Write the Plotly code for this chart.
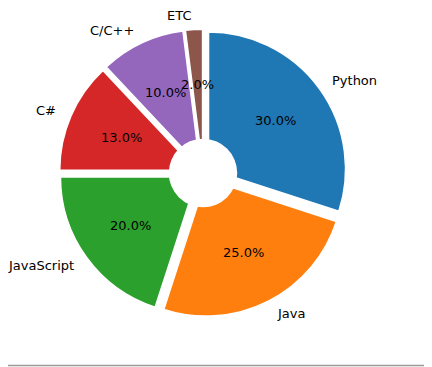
import numpy as np
import plotly.graph_objects as go

labels = ["Python", "Java", "JavaScript", "C#", "C/C++", "ETC"]
values = [30, 25, 20, 13, 10, 2]
colors = ["#1f77b4", "#ff7f0e", "#2ca02c", "#d62728", "#9467bd", "#8c564b"]
explode = 0.05
center_hole = 0.25

# page body has an 8px margin; figure placed accordingly
W, H = 432, 359
CX, CY = 195, 165      # pie centre in figure pixels (from top-left)
R = 137                # pie radius in pixels

half = R * (1 + explode)
cy_b = H - CY

fig = go.Figure()
fig.add_trace(go.Pie(
    labels=labels, values=values, sort=False, direction="clockwise", rotation=0,
    pull=[explode] * len(values),
    marker=dict(colors=colors, line=dict(color="white", width=1.5)),
    textinfo="none", hoverinfo="skip", showlegend=False,
    domain=dict(x=[(CX - half) / W, (CX + half) / W], y=[(cy_b - half) / H, (cy_b + half) / H]),
))
hr = R * center_hole
fig.add_trace(go.Pie(
    values=[1], sort=False, marker=dict(colors=["white"], line=dict(color="white", width=0)),
    textinfo="none", hoverinfo="skip", showlegend=False,
    domain=dict(x=[(CX - hr) / W, (CX + hr) / W], y=[(cy_b - hr) / H, (cy_b + hr) / H]),
))

vals = np.array(values, dtype=float)
frac = vals / vals.sum()
start = 90 - 360 * np.concatenate([[0], np.cumsum(frac)[:-1]])
mid = np.deg2rad(start - 180 * frac)

font = dict(family="DejaVu Sans", size=13, color="black")
ann = []
for lab, f, th in zip(labels, frac, mid):
    c, s = np.cos(th), np.sin(th)
    rp = R * (0.6 + explode)
    ann.append(dict(x=(CX + rp * c) / W, y=(cy_b + rp * s) / H, xref="paper", yref="paper",
                    text=f"{f*100:.1f}%", showarrow=False, font=font,
                    xanchor="center", yanchor="middle"))
    rl = R * (1.1 + explode)
    ann.append(dict(x=(CX + rl * c) / W, y=(cy_b + rl * s) / H, xref="paper", yref="paper",
                    text=lab, showarrow=False, font=font,
                    xanchor="left" if c > 0 else "right", yanchor="middle"))

line_y = (H - 357.5) / H
fig.update_layout(
    width=W, height=H, margin=dict(l=0, r=0, t=0, b=0),
    paper_bgcolor="white", plot_bgcolor="white",
    annotations=ann,
    shapes=[dict(type="line", xref="paper", yref="paper", x0=-0.05, x1=1.05, y0=line_y, y1=line_y,
                 line=dict(color="#9a9a9a", width=1.5))],
)
fig.write_html("out.html")
